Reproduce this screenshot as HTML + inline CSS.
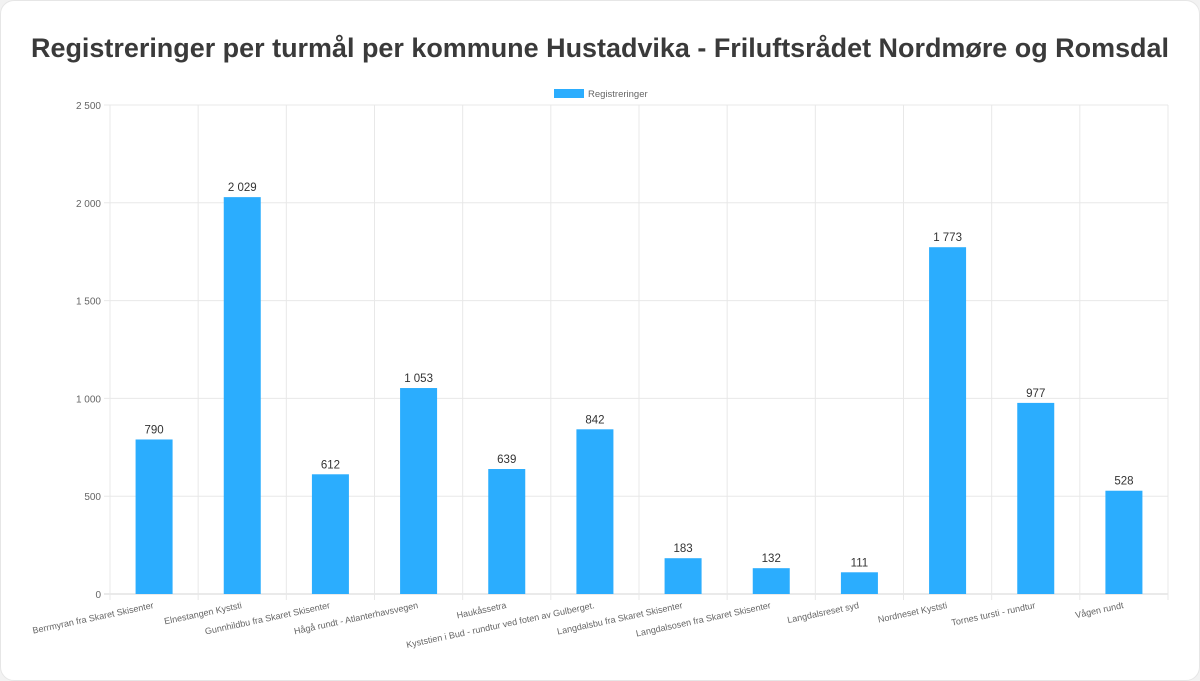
<!DOCTYPE html>
<html><head><meta charset="utf-8"><style>
html,body{margin:0;padding:0;background:#f2f2f2;}
.card{position:absolute;left:0;top:0;width:1198px;height:679px;background:#fff;border:1px solid #e6e6e6;border-radius:14px;}
svg{position:absolute;left:0;top:0;}
text{font-family:"Liberation Sans",sans-serif;}
</style></head><body>
<div class="card"></div>
<svg width="1200" height="681" viewBox="0 0 1200 681">
<text x="600" y="57" text-anchor="middle" font-size="27" font-weight="bold" fill="#3a3a3a" textLength="1138" lengthAdjust="spacingAndGlyphs">Registreringer per turmål per kommune Hustadvika - Friluftsrådet Nordmøre og Romsdal</text>
<rect x="554" y="89" width="30" height="9" fill="#2badfe"/>
<text x="588" y="97" font-size="9.5" fill="#666">Registreringer</text>
<g id="g"></g>
</svg>
<script>
var names=["Berrmyran fra Skaret Skisenter","Elnestangen Kyststi","Gunnhildbu fra Skaret Skisenter","Hågå rundt - Atlanterhavsvegen","Haukåssetra","Kyststien i Bud - rundtur ved foten av Gulberget.","Langdalsbu fra Skaret Skisenter","Langdalsosen fra Skaret Skisenter","Langdalsreset syd","Nordneset Kyststi","Tornes tursti - rundtur","Vågen rundt"];
var vals=[790,2029,612,1053,639,842,183,132,111,1773,977,528];
var L=110,R=1168,T=105,B=594,s="";
function fmt(v){return v>=1000?Math.floor(v/1000)+" "+String(v%1000).padStart(3,"0"):String(v);}
for(var k=0;k<=5;k++){var y=B-(B-T)*k/5;
s+='<line x1="104" x2="'+R+'" y1="'+y+'" y2="'+y+'" stroke="'+(k==0?"#d6d6d6":"#e8e8e8")+'"/>';
s+='<text x="101" y="'+(y+4)+'" text-anchor="end" font-size="10" fill="#666">'+fmt(k*500)+'</text>';}
var w=(R-L)/12;
for(var i=0;i<=12;i++){var x=L+i*w;s+='<line x1="'+x+'" x2="'+x+'" y1="'+T+'" y2="'+(B+6)+'" stroke="#e8e8e8"/>';}
for(var i=0;i<12;i++){var c=L+(i+0.5)*w,h=vals[i]/2500*(B-T),bw=37;
s+='<rect x="'+(c-bw/2)+'" y="'+(B-h)+'" width="'+bw+'" height="'+h+'" fill="#2badfe"/>';
s+='<text x="'+c+'" y="'+(B-h-6)+'" text-anchor="middle" font-size="11.5" fill="#333">'+fmt(vals[i])+'</text>';
s+='<text transform="translate('+c+',608) rotate(-12)" text-anchor="end" font-size="9" fill="#666">'+names[i]+'</text>';}
document.getElementById("g").innerHTML=s;
</script>
</body></html>
